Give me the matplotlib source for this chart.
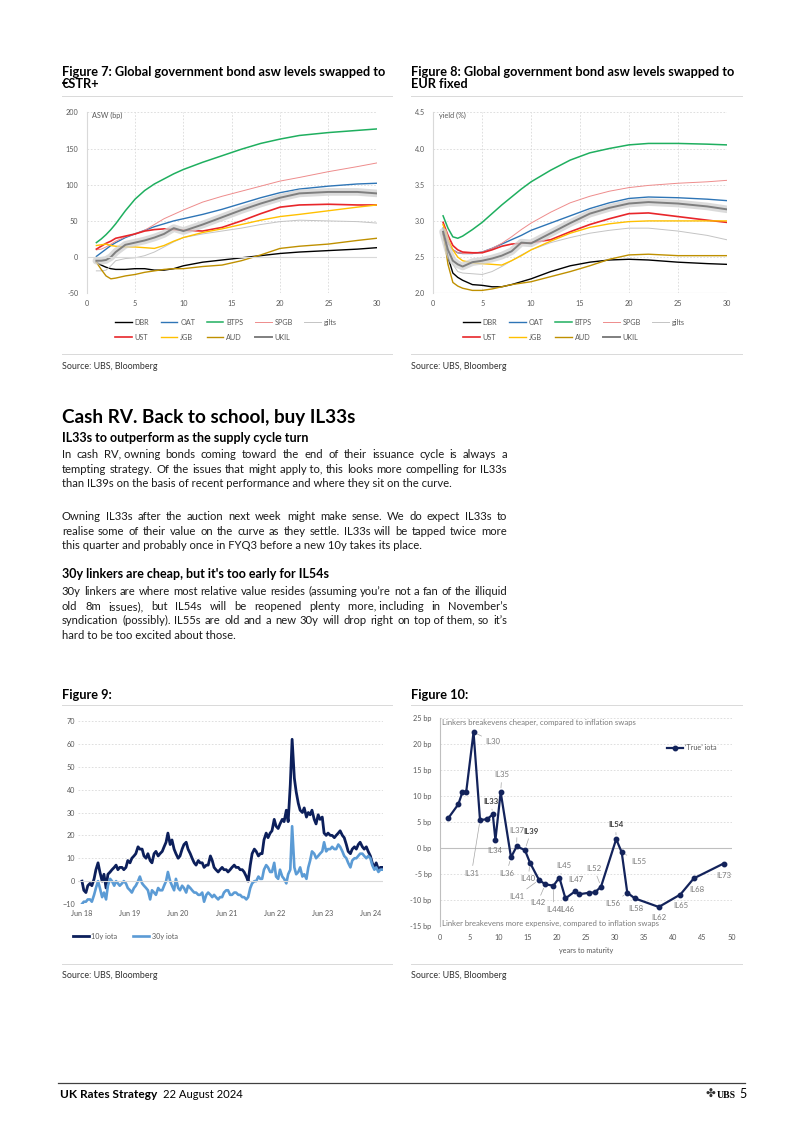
import pandas as pd
import matplotlib
matplotlib.use('Agg')
import matplotlib.pyplot as plt
from matplotlib.lines import Line2D

plt.rcParams['font.family'] = ['Lato', 'DejaVu Sans']

# ---- Figure 7 / 8 : asw curves (x = years) ----
tenors = [1, 1.5, 2, 2.5, 3, 4, 5, 6, 7, 8, 9, 10, 12, 14, 16, 18, 20, 22, 25, 28, 30]

asw_dbr = [-7, -11, -14, -16, -17, -17, -16, -16, -18, -18, -16, -12, -7, -4, -1, 2, 5, 7, 9, 11, 13]
asw_oat = [1, 6, 11, 16, 20, 27, 32, 37, 42, 46, 50, 53, 59, 66, 74, 82, 89, 94, 98, 101, 102]
asw_btps = [20, 25, 31, 38, 46, 64, 80, 92, 101, 108, 115, 121, 131, 140, 149, 157, 163, 168, 172, 175, 177]
asw_spgb = [10, 11, 14, 18, 22, 28, 32, 37, 45, 53, 59, 65, 76, 84, 91, 98, 105, 110, 118, 125, 130]
asw_gilts = [-19, -19, -18, -12, -5, -2, -1, 2, 7, 14, 21, 27, 32, 36, 40, 45, 49, 51, 50, 49, 47]
asw_ust = [11, 15, 19, 22, 26, 29, 32, 36, 38, 39, 38, 37, 36, 41, 50, 60, 69, 72, 73, 72, 72]
asw_jgb = [16, 17, 18, 16, 15, 14, 14, 13, 12, 16, 22, 27, 34, 39, 45, 51, 56, 59, 64, 69, 72]
asw_aud = [-7, -17, -26, -30, -29, -26, -24, -21, -19, -17, -16, -16, -13, -11, -5, 3, 12, 15, 18, 23, 26]
asw_ukil = [-5, -5, -4, 0, 7, 17, 20, 23, 27, 32, 40, 36, 45, 55, 65, 74, 82, 88, 90, 90, 88]

yld_dbr = [2.82, 2.5, 2.28, 2.22, 2.18, 2.12, 2.11, 2.09, 2.09, 2.12, 2.16, 2.2, 2.3, 2.38, 2.43, 2.46, 2.47, 2.46, 2.43, 2.41, 2.4]
yld_oat = [2.9, 2.7, 2.6, 2.56, 2.55, 2.55, 2.57, 2.62, 2.68, 2.74, 2.8, 2.87, 2.97, 3.07, 3.17, 3.25, 3.31, 3.33, 3.32, 3.3, 3.28]
yld_btps = [3.07, 2.9, 2.78, 2.76, 2.79, 2.88, 2.98, 3.1, 3.22, 3.33, 3.44, 3.54, 3.7, 3.84, 3.94, 4.0, 4.05, 4.07, 4.07, 4.06, 4.05]
yld_spgb = [2.95, 2.7, 2.6, 2.56, 2.55, 2.55, 2.57, 2.62, 2.69, 2.78, 2.88, 2.97, 3.12, 3.25, 3.34, 3.41, 3.46, 3.49, 3.52, 3.54, 3.56]
yld_gilts = [2.88, 2.6, 2.4, 2.3, 2.28, 2.27, 2.26, 2.3, 2.37, 2.45, 2.53, 2.6, 2.7, 2.77, 2.83, 2.87, 2.9, 2.9, 2.86, 2.8, 2.74]
yld_ust = [2.98, 2.8, 2.66, 2.6, 2.57, 2.56, 2.56, 2.6, 2.65, 2.68, 2.69, 2.7, 2.74, 2.85, 2.95, 3.03, 3.1, 3.11, 3.06, 3.01, 2.98]
yld_jgb = [2.95, 2.75, 2.6, 2.5, 2.45, 2.42, 2.41, 2.4, 2.39, 2.45, 2.52, 2.6, 2.72, 2.83, 2.91, 2.96, 2.99, 3.0, 3.0, 3.0, 3.0]
yld_aud = [2.85, 2.4, 2.15, 2.1, 2.07, 2.04, 2.04, 2.06, 2.09, 2.12, 2.14, 2.16, 2.23, 2.3, 2.38, 2.47, 2.53, 2.54, 2.52, 2.52, 2.52]
yld_ukil = [2.85, 2.6, 2.45, 2.4, 2.37, 2.43, 2.45, 2.48, 2.52, 2.58, 2.7, 2.69, 2.83, 2.97, 3.1, 3.18, 3.24, 3.26, 3.24, 3.2, 3.16]

series_names = ['DBR', 'OAT', 'BTPS', 'SPGB', 'gilts', 'UST', 'JGB', 'AUD', 'UKIL']
series_colors = ['#000000', '#2E75B6', '#1FAF5F', '#EE8C8C', '#C4C4C4', '#E8262A', '#FFC000', '#BF9000', '#7F7F7F']
series_widths = [1.0, 1.0, 1.1, 0.7, 0.7, 1.2, 1.0, 1.0, 1.4]

# ---- Figure 9 : 10y / 30y iota, semi-monthly from Jun 2018 ----
iota10 = [0, -4, -5, -2, -1, -2, 1, 5, 8, 4, 0, 3, -3, 3, 4, 5, 6, 7, 5, 6,
          6, 5, 6, 9, 8, 10, 11, 12, 15, 14, 14, 11, 10, 12, 9, 8, 12, 13, 11, 12,
          13, 15, 17, 21, 16, 18, 14, 12, 10, 11, 14, 16, 17, 14, 12, 10, 8, 7, 9, 8,
          8, 6, 7, 7, 11, 9, 6, 5, 4, 5, 6, 5, 5, 4, 5, 6, 7, 6, 6, 5,
          5, 4, 2, 0, 7, 12, 14, 13, 11, 12, 12, 18, 21, 19, 21, 22, 27, 24, 23, 25,
          27, 26, 31, 26, 42, 62, 45, 39, 34, 31, 30, 32, 28, 30, 29, 31, 27, 25, 29, 27,
          28, 21, 20, 21, 20, 20, 19, 20, 21, 22, 20, 19, 16, 13, 12, 14, 15, 14, 16, 17,
          15, 14, 15, 13, 11, 8, 6, 8, 5, 6, 6]
iota30 = [-10, -9, -9, -8, -8, -9, -6, -3, 0, -3, -7, -5, -8, -2, 1, 0, -2, 0, -1, -2,
          -1, 0, -1, -3, -4, -5, -3, -2, 0, 2, -1, -2, -3, -4, -8, -4, -5, -6, -3, -4,
          -4, -2, 0, 4, 0, -2, -4, 1, -3, -4, -2, -3, -5, -2, -3, -4, -5, -5, -6, -6,
          -5, -9, -6, -5, -6, -7, -6, -7, -8, -7, -7, -5, -4, -4, -6, -6, -5, -5, -6, -6,
          -7, -7, -8, -7, -3, -1, 0, 0, 2, 1, 1, 5, 7, 6, 4, 4, 8, 2, 1, 5,
          2, 1, -1, 3, 5, 24, 6, 3, 4, 6, 2, 3, 1, 6, 9, 13, 12, 10, 11, 12,
          13, 17, 13, 14, 14, 15, 14, 14, 16, 15, 13, 11, 10, 8, 6, 9, 10, 10, 11, 12,
          12, 11, 10, 11, 10, 7, 5, 6, 4, 5, 5]
iota_dates = pd.date_range('2018-06-01', periods=len(iota10), freq='SMS')
year_ticks = pd.to_datetime(['2018-06-01', '2019-06-01', '2020-06-01', '2021-06-01',
                             '2022-06-01', '2023-06-01', '2024-06-01'])
year_labels = ['Jun 18', 'Jun 19', 'Jun 20', 'Jun 21', 'Jun 22', 'Jun 23', 'Jun 24']

# ---- Figure 10 : 'True' iota by maturity ----
mat_years = [1.43, 3.14, 3.85, 4.5, 5.75, 6.86, 8.1, 9.05, 9.5, 10.4, 12.17, 13.14, 14.55, 15.43,
             16.97, 18.05, 19.45, 20.46, 21.5, 23.14, 23.9, 25.6, 26.55, 27.6, 30.2, 31.15,
             32.1, 33.4, 37.5, 41.2, 43.5, 48.6]
true_iota = [5.7, 8.35, 10.7, 10.8, 22.2, 5.3, 5.5, 6.4, 1.5, 10.7, -1.85, 0.25, -0.45, -2.9,
             -6.2, -7.05, -7.3, -5.75, -9.75, -8.4, -8.95, -8.65, -8.6, -7.5, 1.65, -0.9,
             -8.65, -9.75, -11.4, -9.0, -5.9, -3.05]
bond_labels = ['IL30', 'IL31', 'IL33', 'IL34', 'IL35', 'IL36', 'IL37', 'IL39', 'IL40', 'IL41',
               'IL42', 'IL44', 'IL45', 'IL46', 'IL47', 'IL52', 'IL54', 'IL55', 'IL56', 'IL58',
               'IL62', 'IL65', 'IL68', 'IL73']
bond_idx = [4, 5, 7, 8, 9, 10, 11, 12, 13, 14, 15, 16, 17, 18, 19, 23, 24, 25, 26, 27, 28, 29, 30, 31]
label_x = [9.1, 5.4, 8.7, 9.4, 10.6, 11.4, 13.2, 15.6, 15.1, 13.2, 16.7, 19.5, 21.3, 21.8, 23.3,
           26.4, 30.1, 34.0, 29.7, 33.5, 37.5, 41.2, 44.0, 48.6]
label_y = [20.4, -4.9, 8.9, -0.5, 14.0, -4.9, 3.4, 3.2, -6.0, -9.3, -10.6, -11.9, -3.5, -11.9,
           -6.2, -4.0, 4.4, -2.7, -10.7, -11.7, -13.5, -11.1, -8.0, -5.3]
label_leader = [1, 1, 1, 0, 1, 1, 1, 1, 1, 1, 1, 1, 1, 0, 0, 1, 1, 1, 1, 0, 0, 0, 0, 0]
bold_labels = ['IL33', 'IL39', 'IL54']

# ---- page text ----
fig7_title = ['Figure 7: Global government bond asw levels swapped to', '€STR+']
fig8_title = ['Figure 8: Global government bond asw levels swapped to', 'EUR fixed']
heading = 'Cash RV. Back to school, buy IL33s'
sub1 = 'IL33s to outperform as the supply cycle turn'
sub2 = "30y linkers are cheap, but it's too early for IL54s"
para1 = ['In cash RV, owning bonds coming toward the end of their issuance cycle is always a',
         'tempting strategy. Of the issues that might apply to, this looks more compelling for IL33s',
         'than IL39s on the basis of recent performance and where they sit on the curve.']
para2 = ['Owning IL33s after the auction next week might make sense. We do expect IL33s to',
         'realise some of their value on the curve as they settle. IL33s will be tapped twice more',
         'this quarter and probably once in FYQ3 before a new 10y takes its place.']
para3 = ['30y linkers are where most relative value resides (assuming you\u2019re not a fan of the illiquid',
         'old 8m issues), but IL54s will be reopened plenty more, including in November\u2019s',
         'syndication (possibly). IL55s are old and a new 30y will drop right on top of them, so it\u2019s',
         'hard to be too excited about those.']

W, H = 802, 1134
fig = plt.figure(figsize=(W / 100, H / 100), dpi=100)
renderer = fig.canvas.get_renderer()
GREY = '#595959'
TXT = '#1A1A1A'
DESC = 'gjpqy()'


def fx(x):
    return x / W


def fy(y):
    return 1 - y / H


def add_ax(x0, y0, x1, y1):
    return fig.add_axes([x0 / W, 1 - y1 / H, (x1 - x0) / W, (y1 - y0) / H])


def rule(x0, x1, y, color='#D9D9D9', lw=0.7):
    fig.add_artist(Line2D([fx(x0), fx(x1)], [fy(y), fy(y)], color=color, lw=lw))


def text_width(s, size, weight='normal', family=None):
    t = fig.text(0, 0, s, fontsize=size, fontweight=weight, family=family)
    w = t.get_window_extent(renderer).width
    t.remove()
    return w


def put(x, y, s, size, weight='normal', color=TXT, ha='left', family=None):
    return fig.text(fx(x), fy(y), s, fontsize=size, fontweight=weight, color=color,
                    ha=ha, va='baseline', family=family)


def fit(s, width, weight='normal', family=None):
    return 10 * width / text_width(s, 10, weight, family)


def loose_comma(c):
    # a word whose only descender is a comma lands a pixel low on its own
    return ',' in c and not any(ch in DESC for ch in c)


def chunks_of(line):
    parts = line.split(' ')
    while any(loose_comma(c) for c in parts):
        i = next(k for k, c in enumerate(parts) if loose_comma(c))
        if i + 1 < len(parts) and any(ch in DESC for ch in parts[i + 1]):
            parts[i:i + 2] = [parts[i] + ' ' + parts[i + 1]]
        elif i > 0:
            parts[i - 1:i + 1] = [parts[i - 1] + ' ' + parts[i]]
        else:
            parts[i:i + 2] = [parts[i] + ' ' + parts[i + 1]]
    return parts


def justify(line, x0, x1, y, size):
    parts = chunks_of(line)
    widths = [text_width(p, size) for p in parts]
    gap = (x1 - x0 - sum(widths)) / (len(parts) - 1)
    x = x0
    for p, wd in zip(parts, widths):
        put(x, y, p, size)
        x += wd + gap


def style(ax):
    for s in ax.spines.values():
        s.set_visible(False)
    ax.tick_params(length=0, labelsize=5.2, labelcolor=GREY)


# ---- Figure 7 & 8 ----
def curve_chart(ax, data, ylim, yticks, ylabel, fmt):
    style(ax)
    ax.set_xlim(0, 30)
    ax.set_ylim(*ylim)
    ax.set_xticks(range(0, 31, 5))
    ax.set_yticks(yticks)
    ax.set_yticklabels([fmt.format(v) for v in yticks])
    ax.grid(True, ls=(0, (2, 2)), color='#D9D9D9', lw=0.6)
    ax.spines['left'].set_visible(True)
    ax.spines['left'].set_color('#D9D9D9')
    ax.tick_params(axis='y', pad=6)
    ax.tick_params(axis='x', pad=4.5)
    handles = {}
    for name, vals, c, lw in zip(series_names, data, series_colors, series_widths):
        if name == 'UKIL':
            ax.plot(tenors, vals, color='#D0D0D0', lw=5.5, alpha=0.75, solid_capstyle='round')
        h, = ax.plot(tenors, vals, color=c, lw=lw)
        handles[name] = h
    ax.text(0.018, 0.985, ylabel, transform=ax.transAxes, fontsize=5.2, color=GREY, va='center')
    order = ['DBR', 'UST', 'OAT', 'JGB', 'BTPS', 'AUD', 'SPGB', 'UKIL', 'gilts']
    ax.legend([handles[n] for n in order], order, ncol=5, loc='upper center',
              bbox_to_anchor=(0.48, -0.14), frameon=False, fontsize=5.2, labelcolor=GREY,
              handlelength=2.3, handletextpad=0.4, columnspacing=1.6, labelspacing=1.1,
              borderpad=0, borderaxespad=0)


ax7 = add_ax(86.7, 112.3, 376.7, 293.3)
curve_chart(ax7, [asw_dbr, asw_oat, asw_btps, asw_spgb, asw_gilts, asw_ust, asw_jgb, asw_aud, asw_ukil],
            (-50, 200), list(range(-50, 201, 50)), 'ASW (bp)', '{:d}')
ax7.axhline(0, color='#D9D9D9', lw=0.8)

ax8 = add_ax(433.3, 112.3, 726.7, 293.3)
curve_chart(ax8, [yld_dbr, yld_oat, yld_btps, yld_spgb, yld_gilts, yld_ust, yld_jgb, yld_aud, yld_ukil],
            (2.0, 4.5), [2.0, 2.5, 3.0, 3.5, 4.0, 4.5], 'yield (%)', '{:.1f}')
ax8.axhline(2.0, color='#D9D9D9', lw=0.8)

# ---- Figure 9 ----
ax9 = add_ax(78.3, 721, 383.3, 904)
style(ax9)
ax9.plot(iota_dates, iota10, color='#0C1F5B', lw=2.0, label='10y iota')
ax9.plot(iota_dates, iota30, color='#5B9BD5', lw=1.9, label='30y iota')
ax9.set_ylim(-10, 70)
ax9.set_yticks(range(-10, 71, 10))
ax9.set_xlim(pd.Timestamp('2018-05-04'), pd.Timestamp('2024-09-07'))
ax9.set_xticks(year_ticks)
ax9.set_xticklabels(year_labels)
ax9.grid(True, axis='y', ls=(0, (2, 2)), color='#D9D9D9', lw=0.6)
ax9.axhline(0, color='#D9D9D9', lw=0.8)
ax9.tick_params(axis='y', pad=2.5)
ax9.tick_params(axis='x', pad=4)
ax9.legend(ncol=2, loc='center left', bbox_to_anchor=(-0.016, -0.175), frameon=False,
           fontsize=5.2, labelcolor=GREY, handlelength=2.2, handletextpad=0.3,
           columnspacing=2.2, borderpad=0, borderaxespad=0)

# ---- Figure 10 ----
ax10 = add_ax(440, 717.7, 731.7, 925.7)
style(ax10)
ax10.set_xlim(0, 50)
ax10.set_ylim(-15, 25)
ax10.set_xticks(range(0, 51, 5))
ax10.set_yticks(range(-15, 26, 5))
ax10.set_yticklabels([f'{v} bp' for v in range(-15, 26, 5)])
ax10.grid(True, axis='y', ls=(0, (2, 2)), color='#D9D9D9', lw=0.6)
ax10.axhline(0, color='#BFBFBF', lw=0.8)
ax10.spines['left'].set_visible(True)
ax10.spines['left'].set_color('#BFBFBF')
ax10.tick_params(axis='y', pad=6)
ax10.tick_params(axis='x', pad=6)
ax10.set_xlabel('years to maturity', fontsize=5.2, color=GREY, labelpad=4)
ax10.plot(mat_years, true_iota, color='#13235B', lw=1.6, marker='o', ms=3.2,
          label="\u2018True\u2019 iota")
for name, i, tx, ty, lead in zip(bond_labels, bond_idx, label_x, label_y, label_leader):
    bold = name in bold_labels
    props = dict(arrowstyle='-', color='#A6A6A6', lw=0.5, shrinkA=1, shrinkB=3) if lead else None
    ax10.annotate(name, xy=(mat_years[i], true_iota[i]), xytext=(tx, ty),
                  ha='center', va='center', fontsize=5.6,
                  fontweight='bold' if bold else 'normal',
                  color='#404040' if bold else '#7A7A7A', arrowprops=props)
ax10.text(0.4, 24.0, 'Linkers breakevens cheaper, compared to inflation swaps',
          fontsize=5.6, color='#7A7A7A', va='center')
ax10.text(0.4, -14.6, 'Linker breakevens more expensive, compared to inflation swaps',
          fontsize=5.6, color='#7A7A7A', va='center')
ax10.legend(loc='center left', bbox_to_anchor=(0.777, 0.856), frameon=False, fontsize=5.2,
            labelcolor=GREY, handlelength=2.2, handletextpad=0.3, borderpad=0, borderaxespad=0)

# ---- page text ----
title_size = fit(fig7_title[0], 326, 'bold')
put(62, 75.7, fig7_title[0], title_size, 'bold', '#000000')
put(62, 88.3, fig7_title[1], title_size, 'bold', '#000000')
put(411, 75.7, fig8_title[0], title_size, 'bold', '#000000')
put(411, 88.3, fig8_title[1], title_size, 'bold', '#000000')
put(62, 699.3, 'Figure 9:', title_size, 'bold', '#000000')
put(411, 699.3, 'Figure 10:', title_size, 'bold', '#000000')

src_size = fit('Source: UBS, Bloomberg', 96)
for sx, sy in [(62, 369.3), (411, 369.3), (62, 977.7), (411, 977.7)]:
    put(sx, sy, 'Source: UBS, Bloomberg', src_size, color='#333333')

for y in [96, 354.3, 705, 964.3]:
    rule(62, 392, y)
    rule(411, 742, y)

put(62, 423, heading, fit(heading, 294, 'bold'), 'bold', '#000000')
sub_size = fit(sub1, 247, 'bold')
put(62, 441.7, sub1, sub_size, 'bold', '#000000')
put(62, 578.3, sub2, sub_size, 'bold', '#000000')

body_size = min(fit(l, 443) for p in [para1, para2, para3] for l in p[:-1])
for para, ys in [(para1, [458, 473, 487]), (para2, [520, 535, 549]),
                 (para3, [595, 610, 624, 639])]:
    for k, (line, y) in enumerate(zip(para, ys)):
        if k < len(para) - 1:
            justify(line, 62, 507, y, body_size)
        else:
            put(62, y, line, body_size)

# ---- footer ----
rule(58, 745, 1083, color='#404040', lw=0.9)
narrow = ['Liberation Sans Narrow', 'Lato']
put(60.4, 1098, 'UK Rates Strategy', fit('UK Rates Strategy', 97.6, 'bold', narrow), 'bold', '#000000', family=narrow)
put(162.6, 1098, '22 August 2024', fit('22 August 2024', 80.4, 'normal', narrow), color='#000000', family=narrow)
put(710, 1098, '\u2724', 8.5, color='#333333', ha='center', family=['DejaVu Sans'])
put(717, 1098, 'UBS', 7, 'bold', '#000000', family=['Liberation Serif'])
put(739.5, 1098, '5', 9, color='#000000', family=narrow)

fig.savefig('out.png', dpi=100)
